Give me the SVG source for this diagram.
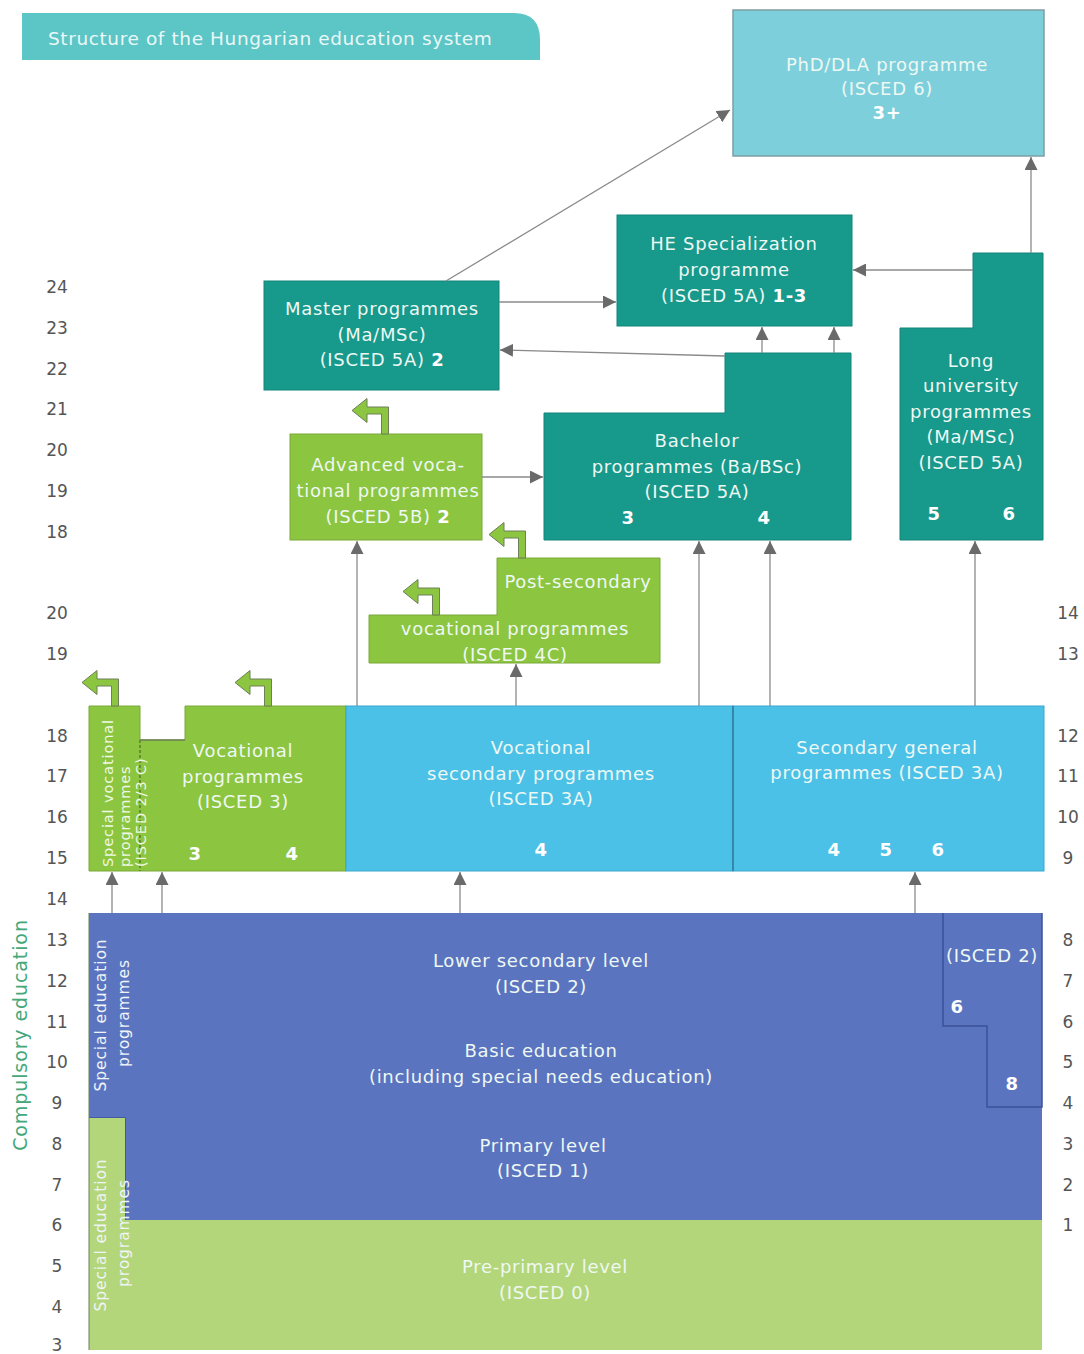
<svg xmlns="http://www.w3.org/2000/svg" width="1084" height="1354" viewBox="0 0 1084 1354">
<style>
.t{font-family:"DejaVu Sans",sans-serif;font-size:18px;letter-spacing:0.7px;fill:#eef8f4;text-anchor:middle}
.b{font-weight:bold;fill:#ffffff}
.ax{font-family:"DejaVu Sans",sans-serif;font-size:17px;fill:#555;text-anchor:middle}
.vt{font-family:"DejaVu Sans",sans-serif;font-size:14.5px;letter-spacing:0.9px;fill:#eef8e4}
.vs{font-family:"DejaVu Sans",sans-serif;font-size:15.5px;letter-spacing:0.9px;fill:#eef4f8}
.teal{fill:#17998b;stroke:#13857a;stroke-width:1}
.lime{fill:#8cc53f;stroke:#7aa83a;stroke-width:1}
.sky{fill:#4cc1e7;stroke:#3aa6cc;stroke-width:1}
.ind{fill:#5b74bf}
.pale{fill:#b4d67a}
.con{fill:none;stroke:#8a8a8a;stroke-width:1.3;marker-end:url(#ah)}
.bent{fill:#8cc53f;stroke:#6f7f5a;stroke-width:1}
</style>
<defs>
<marker id="ah" markerUnits="userSpaceOnUse" viewBox="0 0 12 12" refX="12" refY="6" markerWidth="13" markerHeight="13" orient="auto">
<path d="M0,0 L12,6 L0,12 z" fill="#6a6a6a"/>
</marker>
<path id="bentArrow" d="M -3.5 0 V -20 H -18 V -11.5 L -33 -23.5 L -18 -35.5 V -27 H 3.5 V 0 Z"/>
</defs>
<rect width="1084" height="1354" fill="#ffffff"/>

<g id="title">
<path d="M 22 13 H 514 Q 540 13 540 40 V 60 H 22 Z" fill="#5cc5c5"/>
<text x="48" y="45" font-family="DejaVu Sans, sans-serif" font-size="18.5" letter-spacing="0.6" fill="#e9f8f8">Structure of the Hungarian education system</text>
</g>

<g id="axis-left" class="ax">
<text x="57" y="293">24</text><text x="57" y="334">23</text><text x="57" y="375">22</text><text x="57" y="415">21</text>
<text x="57" y="456">20</text><text x="57" y="497">19</text><text x="57" y="538">18</text>
<text x="57" y="619">20</text><text x="57" y="660">19</text>
<text x="57" y="742">18</text><text x="57" y="782">17</text><text x="57" y="823">16</text><text x="57" y="864">15</text>
<text x="57" y="905">14</text><text x="57" y="946">13</text><text x="57" y="987">12</text><text x="57" y="1028">11</text>
<text x="57" y="1068">10</text><text x="57" y="1109">9</text><text x="57" y="1150">8</text><text x="57" y="1191">7</text>
<text x="57" y="1231">6</text><text x="57" y="1272">5</text><text x="57" y="1313">4</text><text x="57" y="1351">3</text>
</g>
<g id="axis-right" class="ax">
<text x="1068" y="619">14</text><text x="1068" y="660">13</text>
<text x="1068" y="742">12</text><text x="1068" y="782">11</text><text x="1068" y="823">10</text><text x="1068" y="864">9</text>
<text x="1068" y="946">8</text><text x="1068" y="987">7</text><text x="1068" y="1028">6</text><text x="1068" y="1068">5</text>
<text x="1068" y="1109">4</text><text x="1068" y="1150">3</text><text x="1068" y="1191">2</text><text x="1068" y="1231">1</text>
</g>
<g id="compulsory">
<text transform="translate(27,1035) rotate(-90)" text-anchor="middle" font-family="DejaVu Sans, sans-serif" font-size="19" letter-spacing="0.9" fill="#45a87a">Compulsory education</text>
</g>

<g id="node-phd">
<rect x="733" y="10" width="311" height="146" fill="#7dcfdb" stroke="#7f9ea4" stroke-width="1.5"/>
<text class="t" x="887" y="71">PhD/DLA programme</text>
<text class="t" x="887" y="95">(ISCED 6)</text>
<text class="t b" x="887" y="119">3+</text>
</g>

<g id="node-he">
<rect class="teal" x="617" y="215" width="235" height="111"/>
<text class="t" x="734" y="250">HE Specialization</text>
<text class="t" x="734" y="276">programme</text>
<text class="t" x="734" y="302">(ISCED 5A) <tspan class="b">1-3</tspan></text>
</g>

<g id="node-master">
<rect class="teal" x="264" y="281" width="235" height="109"/>
<text class="t" x="382" y="315">Master programmes</text>
<text class="t" x="382" y="341">(Ma/MSc)</text>
<text class="t" x="382" y="366">(ISCED 5A) <tspan class="b">2</tspan></text>
</g>

<g id="node-long">
<path class="teal" d="M 900 328 H 973 V 253 H 1043 V 540 H 900 Z"/>
<text class="t" x="971" y="367">Long</text>
<text class="t" x="971" y="392">university</text>
<text class="t" x="971" y="418">programmes</text>
<text class="t" x="971" y="443">(Ma/MSc)</text>
<text class="t" x="971" y="469">(ISCED 5A)</text>
<text class="t b" x="934" y="520">5</text>
<text class="t b" x="1009" y="520">6</text>
</g>

<g id="node-bachelor">
<path class="teal" d="M 544 413 H 725 V 353 H 851 V 540 H 544 Z"/>
<text class="t" x="697" y="447">Bachelor</text>
<text class="t" x="697" y="473">programmes (Ba/BSc)</text>
<text class="t" x="697" y="498">(ISCED 5A)</text>
<text class="t b" x="628" y="524">3</text>
<text class="t b" x="764" y="524">4</text>
</g>

<g id="node-advanced">
<rect class="lime" x="290" y="434" width="192" height="106"/>
<text class="t" x="388" y="471">Advanced voca-</text>
<text class="t" x="388" y="497">tional programmes</text>
<text class="t" x="388" y="523">(ISCED 5B) <tspan class="b">2</tspan></text>
</g>

<g id="node-postsecondary">
<path class="lime" d="M 497 558 H 660 V 663 H 369 V 615 H 497 Z"/>
<text class="t" x="578" y="588">Post-secondary</text>
<text class="t" x="515" y="635">vocational programmes</text>
<text class="t" x="515" y="661">(ISCED 4C)</text>
</g>

<g id="node-vocational">
<path class="lime" d="M 89 706 H 140 V 740 H 185 V 706 H 346 V 871 H 89 Z"/>
<line x1="140" y1="740" x2="140" y2="871" stroke="#4d6a25" stroke-width="1.2" stroke-dasharray="3 2"/>
<line x1="140" y1="740" x2="185" y2="740" stroke="#6f7f5a" stroke-width="1.5"/>
<text class="vt" transform="translate(113,867) rotate(-90)">Special vocational</text>
<text class="vt" transform="translate(130,867) rotate(-90)">programmes</text>
<text class="vt" transform="translate(146,867) rotate(-90)">(ISCED 2/3 C)</text>
<text class="t" x="243" y="757">Vocational</text>
<text class="t" x="243" y="783">programmes</text>
<text class="t" x="243" y="808">(ISCED 3)</text>
<text class="t b" x="195" y="860">3</text>
<text class="t b" x="292" y="860">4</text>
</g>

<g id="node-vocsecondary">
<rect class="sky" x="346" y="706" width="387" height="165"/>
<text class="t" x="541" y="754">Vocational</text>
<text class="t" x="541" y="780">secondary programmes</text>
<text class="t" x="541" y="805">(ISCED 3A)</text>
<text class="t b" x="541" y="856">4</text>
</g>

<g id="node-secgeneral">
<rect class="sky" x="733" y="706" width="311" height="165"/>
<line x1="733" y1="706" x2="733" y2="871" stroke="#2f6d8a" stroke-width="1.2"/>
<text class="t" x="887" y="754">Secondary general</text>
<text class="t" x="887" y="779">programmes (ISCED 3A)</text>
<text class="t b" x="834" y="856">4</text>
<text class="t b" x="886" y="856">5</text>
<text class="t b" x="938" y="856">6</text>
</g>

<g id="node-basic">
<path class="ind" d="M 89 913 H 1042 V 1220 H 125 V 1118 H 89 Z"/>
<path d="M 89 1118 H 125 V 1220" fill="none" stroke="#3d5098" stroke-width="1.5"/>
<path d="M 943 913 V 1026 H 987 V 1107 H 1042 V 913" fill="none" stroke="#3d5098" stroke-width="1.5"/>
<text class="vs" transform="translate(106,1015) rotate(-90)" text-anchor="middle">Special education</text>
<text class="vs" transform="translate(129,1013) rotate(-90)" text-anchor="middle">programmes</text>
<text class="t" x="541" y="967">Lower secondary level</text>
<text class="t" x="541" y="993">(ISCED 2)</text>
<text class="t" x="541" y="1057">Basic education</text>
<text class="t" x="541" y="1083">(including special needs education)</text>
<text class="t" x="543" y="1152">Primary level</text>
<text class="t" x="543" y="1177">(ISCED 1)</text>
<text class="t" x="992" y="962">(ISCED 2)</text>
<text class="t b" x="957" y="1013">6</text>
<text class="t b" x="1012" y="1090">8</text>
</g>

<g id="node-preprimary">
<path class="pale" d="M 89 1118 H 125 V 1220 H 1042 V 1350 H 89 Z"/>
<line x1="89" y1="913" x2="89" y2="1350" stroke="#6b7f5a" stroke-width="1"/>
<text class="vs" transform="translate(106,1235) rotate(-90)" text-anchor="middle">Special education</text>
<text class="vs" transform="translate(129,1233) rotate(-90)" text-anchor="middle">programmes</text>
<text class="t" x="545" y="1273">Pre-primary level</text>
<text class="t" x="545" y="1299">(ISCED 0)</text>
</g>

<g id="connectors">
<path class="con" d="M 446 281 L 730 110"/>
<path class="con" d="M 1031 253 L 1031 157"/>
<path class="con" d="M 973 270 L 853 270"/>
<path class="con" d="M 499 302 L 616 302"/>
<path class="con" d="M 725 356 L 500 350"/>
<path class="con" d="M 762 353 L 762 327"/>
<path class="con" d="M 834 353 L 834 327"/>
<path class="con" d="M 482 477 L 543 477"/>
<path class="con" d="M 357 706 L 357 541"/>
<path class="con" d="M 516 706 L 516 664"/>
<path class="con" d="M 699 706 L 699 541"/>
<path class="con" d="M 770 706 L 770 541"/>
<path class="con" d="M 975 706 L 975 541"/>
<path class="con" d="M 112 913 L 112 872"/>
<path class="con" d="M 162 913 L 162 872"/>
<path class="con" d="M 460 913 L 460 872"/>
<path class="con" d="M 915 913 L 915 872"/>
<use href="#bentArrow" class="bent" x="385" y="434"/>
<use href="#bentArrow" class="bent" x="522" y="558"/>
<use href="#bentArrow" class="bent" x="436" y="615"/>
<use href="#bentArrow" class="bent" x="115" y="706"/>
<use href="#bentArrow" class="bent" x="268" y="706"/>
</g>
</svg>
